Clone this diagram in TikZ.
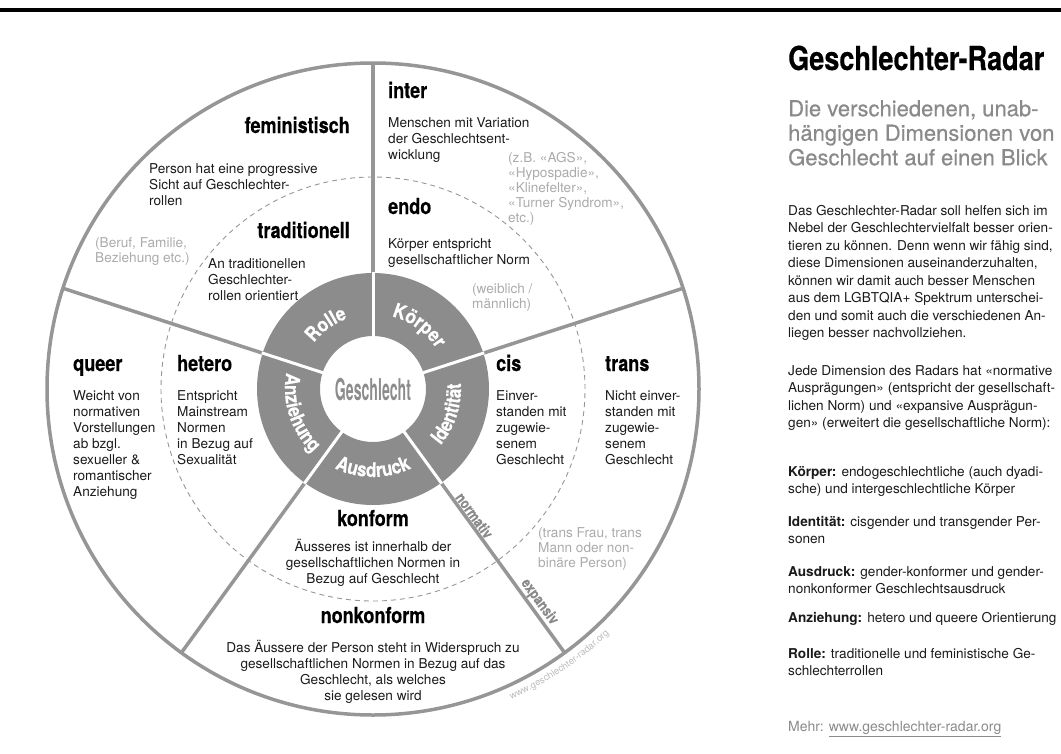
\documentclass[tikz,border=0pt]{standalone}
\usepackage{fontspec}
\setmainfont{TeX Gyre Heros}
\newfontfamily\condfont[FakeStretch=0.82, FakeBold=0.4]{TeX Gyre Heros}
\newfontfamily\segcond[FakeStretch=0.86, FakeBold=0.3]{TeX Gyre Heros}
\newfontfamily\hubfont[FakeStretch=0.47]{TeX Gyre Heros}
\newfontfamily\subfont[FakeBold=0.5]{TeX Gyre Heros}
\usetikzlibrary{decorations.text}
\definecolor{radarGray}{HTML}{969696}
\definecolor{ringGray}{HTML}{8C8C8C}
\definecolor{noteGray}{HTML}{ABABAB}
\definecolor{subGray}{HTML}{8A8A8A}
\definecolor{inkBlack}{HTML}{1A1A1A}
\newcommand\segfont{\segcond\bfseries\fontsize{20}{20}\selectfont\color{white}}

\begin{document}
\begin{tikzpicture}[x=1pt, y=1pt,
    hd/.style={inner sep=0, font=\condfont\bfseries\fontsize{22}{22}\selectfont, text=black},
    txt/.style={inner sep=0, align=left, font=\fontsize{13.6}{16}\selectfont, text=inkBlack},
    note/.style={inner sep=0, align=left, font=\fontsize{13.6}{15}\selectfont, text=noteGray},
    side/.style={inner sep=0, align=left, anchor=north west,
                 font=\fontsize{13.6}{17.5}\selectfont, text=inkBlack},
    seg/.style={decorate, decoration={text along path, text align=center, text={|\segfont|#1}}},
    polelbl/.style={inner sep=2pt, anchor=south, rotate=-54,
                    font=\condfont\bfseries\fontsize{15}{15}\selectfont, text=subGray},
  ]
    \useasboundingbox (0,0) rectangle (1061,-753);
    \draw[line width=3.5pt] (0,-10) -- (1061,-10);

    % the wheel
    \begin{scope}[shift={(373,-389)}]
      \foreach \a in {90,18,-54,-126,162}
        \draw[radarGray, line width=3.5pt] (\a:116) -- (\a:326);
      \draw[radarGray, line width=3.5pt] (0,0) circle (326);
      \draw[radarGray, line width=0.9pt, dash pattern=on 5pt off 4pt] (0,0) circle (212);

      \fill[ringGray, even odd rule] (0,0) circle (116) circle (53);
      \foreach \a in {90,18,-54,-126,162}
        \draw[white, line width=3pt] (\a:52) -- (\a:117);
      \node[font=\hubfont\bfseries\fontsize{30}{30}\selectfont, text=ringGray] (hub) at (0,-1) {Geschlecht};

      \path[seg=Rolle] (166:75) arc[start angle=166, end angle=86, radius=75];
      \path[seg=Körper] (94:75) arc[start angle=94, end angle=14, radius=75];
      \path[seg=Identität] (-68:88) arc[start angle=-68, end angle=32, radius=88];
      \path[seg=Ausdruck] (-140:88) arc[start angle=-140, end angle=-40, radius=88];
      \path[seg=Anziehung] (148:88) arc[start angle=148, end angle=248, radius=88];

      \node[polelbl] (norm) at (-54:162) {normativ};
      \node[polelbl] (expa) at (-54:270) {expansiv};

      \path[decorate, decoration={text along path, text align=center,
          text={|\fontsize{9.5}{9.5}\selectfont\color{noteGray!80}|www.geschlechter-radar.org}}]
        (-86:340) arc[start angle=-86, end angle=-26, radius=340];
    \end{scope}

    % Koerper
    \node[hd, anchor=base west] (inter) at (388,-98) {inter};
    \node[txt, anchor=north west] (interTxt) at (388,-117) {Menschen mit Variation\\der Geschlechtsent-\\wicklung};
    \node[note, anchor=north west] (interNote) at (508,-152) {(z.B. «AGS»,\\«Hypospadie»,\\«Klinefelter»,\\«Turner Syndrom»,\\etc.)};
    \node[hd, anchor=base west] (endo) at (388,-214) {endo};
    \node[txt, anchor=north west] (endoTxt) at (388,-238) {Körper entspricht\\gesellschaftlicher Norm};
    \node[note, anchor=north west] (endoNote) at (472,-283) {(weiblich /\\männlich)};

    % Rolle
    \node[hd, anchor=base east] (femi) at (350,-133) {feministisch};
    \node[txt, anchor=north west] (femiTxt) at (149,-163) {Person hat eine progressive\\Sicht auf Geschlechter-\\rollen};
    \node[note, anchor=north west] (femiNote) at (95,-237) {(Beruf, Familie,\\Beziehung etc.)};
    \node[hd, anchor=base east] (trad) at (350,-238) {traditionell};
    \node[txt, anchor=north west] (tradTxt) at (208,-258) {An traditionellen\\Geschlechter-\\rollen orientiert};

    % Anziehung
    \node[hd, anchor=base west] (queer) at (73,-371) {queer};
    \node[txt, anchor=north west] (queerTxt) at (73,-390) {Weicht von\\normativen\\Vorstellungen\\ab bzgl.\\sexueller \&\\romantischer\\Anziehung};
    \node[hd, anchor=base west] (hetero) at (177,-371) {hetero};
    \node[txt, anchor=north west] (heteroTxt) at (177,-390) {Entspricht\\Mainstream\\Normen\\in Bezug auf\\Sexualität};

    % Identitaet
    \node[hd, anchor=base west] (cis) at (496,-371) {cis};
    \node[txt, anchor=north west] (cisTxt) at (496,-390) {Einver-\\standen mit\\zugewie-\\senem\\Geschlecht};
    \node[hd, anchor=base west] (trans) at (605,-371) {trans};
    \node[txt, anchor=north west] (transTxt) at (605,-390) {Nicht einver-\\standen mit\\zugewie-\\senem\\Geschlecht};
    \node[note, anchor=north west] (transNote) at (538,-527) {(trans Frau, trans\\Mann oder non-\\binäre Person)};

    % Ausdruck
    \node[hd, anchor=base] (konf) at (373,-526) {konform};
    \node[txt, align=center, anchor=north] (konfTxt) at (373,-539) {Äusseres ist innerhalb der\\gesellschaftlichen Normen in\\Bezug auf Geschlecht};
    \node[hd, anchor=base] (nonkonf) at (373,-623) {nonkonform};
    \node[txt, align=center, anchor=north] (nonkonfTxt) at (373,-640) {Das Äussere der Person steht in Widerspruch zu\\gesellschaftlichen Normen in Bezug auf das\\Geschlecht, als welches\\sie gelesen wird};

    % side column
    \node[anchor=base west, inner sep=0, font=\condfont\bfseries\fontsize{33}{33}\selectfont] (title) at (788,-70) {Geschlechter-Radar};
    \node[anchor=north west, inner sep=0, align=left, font=\subfont\fontsize{22}{24.5}\selectfont, text=subGray] (subtitle) at (788,-100)
      {Die verschiedenen, unab-\\hängigen Dimensionen von\\Geschlecht auf einen Blick};
    \node[side] (about) at (788,-205) {Das Geschlechter-Radar soll helfen sich im\\Nebel der Geschlechtervielfalt besser orien-\\tieren zu können. Denn wenn wir fähig sind,\\diese Dimensionen auseinanderzuhalten,\\können wir damit auch besser Menschen\\aus dem LGBTQIA+ Spektrum unterschei-\\den und somit auch die verschiedenen An-\\liegen besser nachvollziehen.};
    \node[side] (dims) at (788,-365) {Jede Dimension des Radars hat «normative\\Ausprägungen» (entspricht der gesellschaft-\\lichen Norm) und «expansive Ausprägun-\\gen» (erweitert die gesellschaftliche Norm):};
    \node[side] (koerper) at (788,-466) {\textbf{Körper:} endogeschlechtliche (auch dyadi-\\sche) und intergeschlechtliche Körper};
    \node[side] (ident) at (788,-516) {\textbf{Identität:} cisgender und transgender Per-\\sonen};
    \node[side] (ausdr) at (788,-566) {\textbf{Ausdruck:} gender-konformer und gender-\\nonkonformer Geschlechtsausdruck};
    \node[side] (anzieh) at (788,-612) {\textbf{Anziehung:} hetero und queere Orientierung};
    \node[side] (rolle) at (788,-648) {\textbf{Rolle:} traditionelle und feministische Ge-\\schlechterrollen};
    \node[anchor=north west, inner sep=0, font=\fontsize{14}{14}\selectfont, text=subGray] (mehr) at (788,-721)
      {Mehr: \underline{www.geschlechter-radar.org}};
  \end{tikzpicture}
\end{document}
